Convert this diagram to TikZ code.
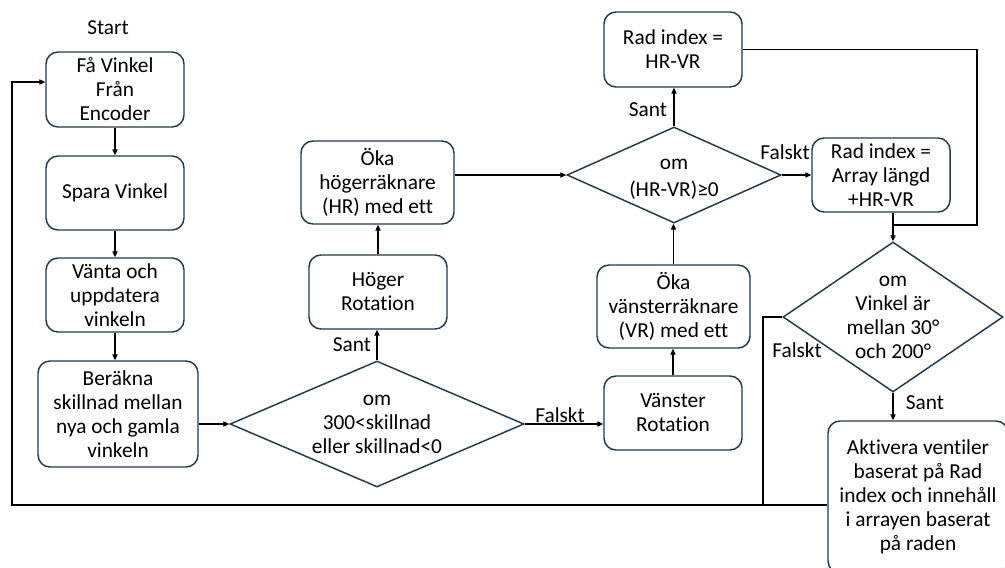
\documentclass[tikz,border=0pt]{standalone}
\usepackage{fontspec}
\setmainfont{Carlito}[Ligatures=NoCommon]
\usetikzlibrary{shapes.geometric,arrows.meta}
\definecolor{edge}{HTML}{1F3A4D}

\tikzset{
  box/.style 2 args={draw=edge, line width=1.1pt, rounded corners=9pt, align=center,
    inner sep=0pt, minimum width=#1*0.75pt, minimum height=#2*0.75pt},
  dia/.style 2 args={draw=edge, line width=1.1pt, diamond, inner sep=0pt,
    minimum width=#1*0.75pt, minimum height=#2*0.75pt},
  link/.style={line width=0.8pt, -{Triangle[length=4.5pt,width=4pt]}},
  wire/.style={line width=0.8pt},
  tag/.style={inner sep=0pt, align=center}
}

\begin{document}
\begin{tikzpicture}[x=0.75pt,y=-0.75pt, font=\fontsize{16}{18}\selectfont]
\useasboundingbox (0,0) rectangle (1005,567);
\clip (0,0) rectangle (1005,567);

% left column
\node[tag] (start) at (108,28) {Start};
\node[box={138}{75}] (b1) at (115,89.5) {Få Vinkel\\Från\\Encoder};
\node[box={138}{74}] (b2) at (115,193) {Spara Vinkel};
\node[box={138}{74}] (b3) at (115,295) {Vänta och\\uppdatera\\vinkeln};
\node[box={160}{106}] (b4) at (118,414) {Beräkna\\skillnad mellan\\nya och gamla\\vinkeln};

% direction decision
\node[dia={294}{126}] (d1) at (377,424) {};
\node[tag] (d1t) at (d1) {om\\300<skillnad\\eller skillnad<0};
\node[box={138}{74}] (hog) at (378,292) {Höger\\Rotation};
\node[box={153}{83}] (okah) at (377.5,182.5) {Öka\\högerräknare\\(HR) med ett};
\node[box={138}{74}] (van) at (673,413) {Vänster\\Rotation};
\node[box={153}{83}] (okav) at (673.5,306.5) {Öka\\vänsterräknare\\(VR) med ett};

% row index decision
\node[dia={214}{96}] (d2) at (674,175) {};
\node[tag] (d2t) at (674,179) {om\\[2pt](HR-VR)≥0};
\node[box={138}{75}] (radA) at (673,49.5) {Rad index =\\HR-VR};
\node[box={138}{74}] (radB) at (881,175) {Rad index =\\Array längd\\+HR-VR};

% angle window decision
\node[dia={220}{150}] (d3) at (893,317) {};
\node[tag] (d3t) at (d3) {om\\Vinkel är\\mellan 30°\\och 200°};
\node[box={180}{152}] (akt) at (918,497) {Aktivera ventiler\\baserat på Rad\\index och innehåll\\i arrayen baserat\\på raden};

% main chain
\draw[link] (b1.south) -- (b2.north);
\draw[link] (b2.south) -- (b3.north);
\draw[link] (b3.south) -- (b3.south |- b4.north);
\draw[link] (b4.east |- d1.west) -- (d1.west);

% right turn branch
\draw[link] (d1.north) -- (d1.north |- hog.south);
\draw[link] (hog.north) -- (hog.north |- okah.south);
\draw[link] (okah.east |- d2.west) -- (d2.west);

% left turn branch
\draw[link] (d1.east) -- (d1.east -| van.west);
\draw[link] (van.north) -- (van.north |- okav.south);
\draw[link] (okav.north) -- (okav.north |- d2.south);

% row index branches
\draw[link] (d2.north) -- (d2.north |- radA.south);
\draw[link] (d2.east) -- (d2.east -| radB.west);
\coordinate (join) at (d3.north |- 0,225);
\coordinate (rt) at (977,225);
\draw[wire] (radA.east) -| (rt) -- (join);
\draw[link] (radB.south -| join) -- (d3.north);

% activation and loop back
\draw[link] (d3.south) -- (d3.south |- akt.north);
\coordinate (fk) at (763,505);
\draw[wire] (d3.west) -| (fk);
\coordinate (back) at (12,505);
\coordinate (up) at (12,82);
\draw[link] (akt.west |- fk) -- (back) -- (up) -- (up -| b1.west);

% branch labels
\node[tag] at (352,345) {Sant};
\node[tag] at (560,415) {Falskt};
\node[tag] at (648,110) {Sant};
\node[tag] at (785,152) {Falskt};
\node[tag] at (797,350) {Falskt};
\node[tag] at (925,403) {Sant};
\end{tikzpicture}
\end{document}
